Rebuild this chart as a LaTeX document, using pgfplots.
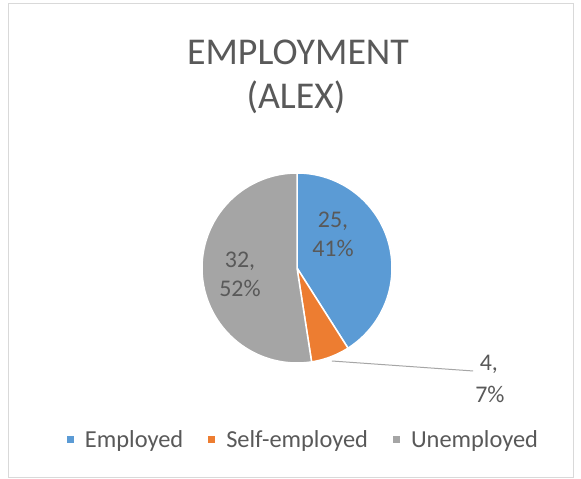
\documentclass[border=0pt]{standalone}
\usepackage{pgfplots}
\pgfplotsset{compat=1.18}
\usepackage{pgfplotstable}
\usepackage{fontspec}
\setmainfont{Carlito}
\definecolor{cblue}{HTML}{5B9BD5}
\definecolor{corange}{HTML}{ED7D31}
\definecolor{cgray}{HTML}{A5A5A5}
\definecolor{ctext}{HTML}{595959}
\definecolor{cframe}{HTML}{D9D9D9}
\definecolor{cline}{HTML}{A6A6A6}

\pgfplotstableread{
name value
Employed 25
Self-employed 4
Unemployed 32
}\piedata

\begin{document}
\begin{tikzpicture}[x=1bp,y=1bp]
\fill[white] (0,0) rectangle (581,479);
\draw[cframe, line width=1bp] (8,1) rectangle (573,475);
\pgfplotstablegetelem{0}{value}\of\piedata \pgfmathsetmacro\va{\pgfplotsretval}
\pgfplotstablegetelem{1}{value}\of\piedata \pgfmathsetmacro\vb{\pgfplotsretval}
\pgfplotstablegetelem{2}{value}\of\piedata \pgfmathsetmacro\vc{\pgfplotsretval}
\pgfmathsetmacro\tot{\va+\vb+\vc}
\pgfmathsetmacro\aA{90}
\pgfmathsetmacro\aB{90-360*\va/\tot}
\pgfmathsetmacro\aC{\aB-360*\vb/\tot}
\pgfmathsetmacro\aD{\aC-360*\vc/\tot}
\node[text=ctext, font=\fontsize{38}{44}\selectfont, anchor=base] at (298,414) {EMPLOYMENT};
\node[text=ctext, font=\fontsize{38}{44}\selectfont, anchor=base] at (296,370) {(ALEX)};
\begin{axis}[
  at={(202bp,116bp)}, anchor=south west,
  width=190bp, height=190bp, scale only axis,
  xmin=-1, xmax=1, ymin=-1, ymax=1,
  hide axis, clip=false,
  legend columns=3,
  legend style={at={(0.529,-0.405)}, anchor=center, draw=none, fill=none,
    font=\fontsize{24.5}{28}\selectfont, text=ctext,
    nodes={inner sep=0pt},
    /tikz/every odd column/.append style={column sep=11bp},
    /tikz/every even column/.append style={column sep=25bp}},
  legend image code/.code={\fill[#1,draw=none] (0bp,-3.5bp) rectangle (7bp,3.5bp);},
]
\addplot[fill=cblue, draw=white, line width=1.5bp, domain=\aB:\aA, samples=80] ({cos(x)},{sin(x)}) -- (0,0) -- cycle;
\addlegendentry{Employed}
\addplot[fill=corange, draw=white, line width=1.5bp, domain=\aC:\aB, samples=20] ({cos(x)},{sin(x)}) -- (0,0) -- cycle;
\addlegendentry{Self-employed}
\addplot[fill=cgray, draw=white, line width=1.5bp, domain=\aD:\aC, samples=100] ({cos(x)},{sin(x)}) -- (0,0) -- cycle;
\addlegendentry{Unemployed}
\addplot[forget plot, cline, line width=1bp] coordinates {(0.368,-0.979) (1.853,-1.084)};
\node[text=ctext, font=\fontsize{24}{28}\selectfont, anchor=base] at (axis cs:0.379,0.421) {25,};
\node[text=ctext, font=\fontsize{24}{28}\selectfont, anchor=base] at (axis cs:0.379,0.116) {41\%};
\node[text=ctext, font=\fontsize{24}{28}\selectfont, anchor=base] at (axis cs:-0.6,0.01) {32,};
\node[text=ctext, font=\fontsize{24}{28}\selectfont, anchor=base] at (axis cs:-0.6,-0.305) {52\%};
\node[text=ctext, font=\fontsize{24}{28}\selectfont, anchor=base] at (axis cs:2.02,-1.074) {4,};
\node[text=ctext, font=\fontsize{24}{28}\selectfont, anchor=base] at (axis cs:2.03,-1.411) {7\%};
\end{axis}
\end{tikzpicture}
\end{document}
